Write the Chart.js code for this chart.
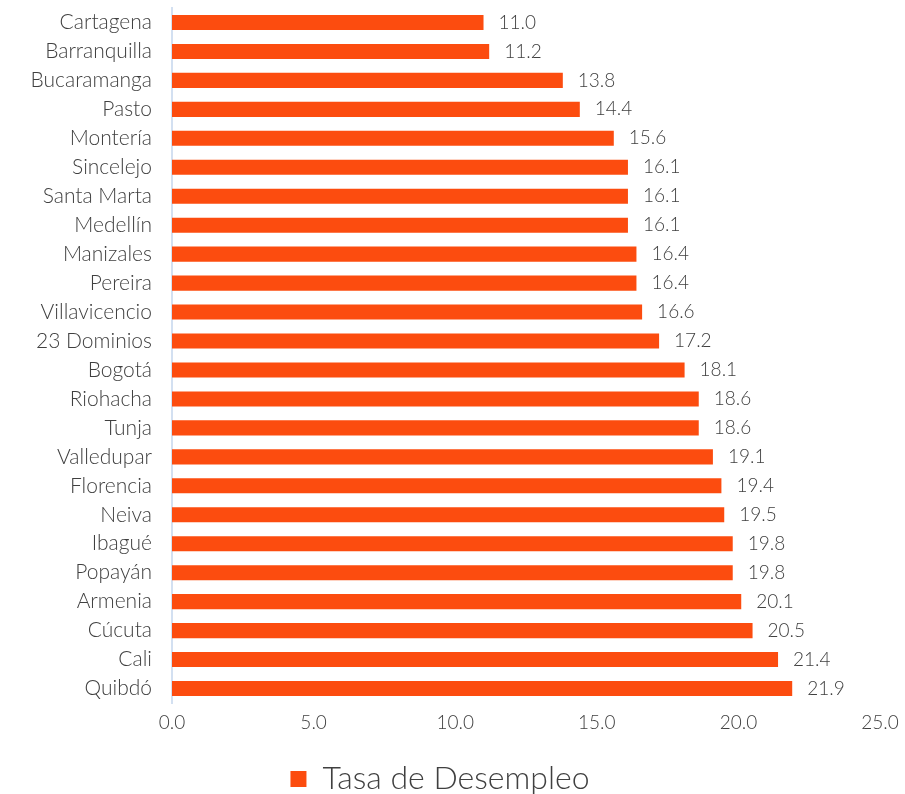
<!DOCTYPE html>
<html>
<head>
<meta charset="utf-8">
<script src="https://cdn.jsdelivr.net/npm/chart.js@4/dist/chart.umd.min.js"></script>
<style>
  html, body { margin: 0; padding: 0; background: #fff; }
  #wrap { width: 905px; height: 794px; }
</style>
</head>
<body>
<div id="wrap"><canvas id="desempleoChart"></canvas></div>
<script>
var ciudades = ["Cartagena", "Barranquilla", "Bucaramanga", "Pasto", "Montería", "Sincelejo",
    "Santa Marta", "Medellín", "Manizales", "Pereira", "Villavicencio", "23 Dominios",
    "Bogotá", "Riohacha", "Tunja", "Valledupar", "Florencia", "Neiva", "Ibagué",
    "Popayán", "Armenia", "Cúcuta", "Cali", "Quibdó"];
var tasaDesempleo = [11.0, 11.2, 13.8, 14.4, 15.6, 16.1, 16.1, 16.1, 16.4, 16.4, 16.6, 17.2,
    18.1, 18.6, 18.6, 19.1, 19.4, 19.5, 19.8, 19.8, 20.1, 20.5, 21.4, 21.9];
var serieNombre = "Tasa de Desempleo";
var ejeX = { min: 0, max: 25, paso: 5 };

var fuente = "Lato, 'Open Sans', sans-serif";
var colorTexto = "#404040";

// etiquetas de valor al final de cada barra
var etiquetasValor = {
    id: "etiquetasValor",
    afterDatasetsDraw: function(chart) {
        var ctx = chart.ctx;
        var meta = chart.getDatasetMeta(0);
        ctx.save();
        ctx.font = "300 19px " + fuente;
        ctx.fillStyle = colorTexto;
        ctx.textAlign = "left";
        ctx.textBaseline = "middle";
        meta.data.forEach(function(bar, i) {
            ctx.fillText(tasaDesempleo[i].toFixed(1), bar.x + 15, bar.y);
        });
        ctx.restore();
    }
};

var ctxDesempleo = document.getElementById("desempleoChart");
var desempleoChart = new Chart(ctxDesempleo, {
    type: "bar",
    data: {
        labels: ciudades,
        datasets: [
            {
                label: serieNombre,
                data: tasaDesempleo,
                backgroundColor: "#FC4C0F",
                borderWidth: 0,
                barPercentage: 0.52,
                categoryPercentage: 1,
            },
        ],
    },
    options: {
        indexAxis: "y",
        responsive: true,
        maintainAspectRatio: false,
        animation: false,
        layout: {
            padding: { left: 0, right: 25, top: 8, bottom: -11 },
        },
        scales: {
            x: {
                min: ejeX.min,
                max: ejeX.max,
                grid: { display: false },
                border: { display: false },
                ticks: {
                    stepSize: ejeX.paso,
                    color: colorTexto,
                    font: { family: fuente, size: 19, weight: "300" },
                    padding: 0,
                    callback: function(v) { return v.toFixed(1); },
                },
                afterFit: function(scale) { scale.height = 60; },
            },
            y: {
                grid: { display: false },
                border: { display: true, color: "#D3E0F1", width: 2 },
                ticks: {
                    color: colorTexto,
                    font: { family: fuente, size: 21, weight: "300" },
                    padding: 12,
                    autoSkip: false,
                },
                afterFit: function(scale) {
                    scale.width = 172;
                    scale.paddingTop = 0;
                    scale.paddingBottom = 0;
                },
            },
        },
        plugins: {
            legend: {
                position: "bottom",
                labels: {
                    color: colorTexto,
                    font: { family: fuente, size: 32, weight: "300" },
                    boxWidth: 16,
                    boxHeight: 16,
                    padding: 0,
                },
            },
            tooltip: { enabled: false },
        },
    },
    plugins: [etiquetasValor],
});
</script>
</body>
</html>
